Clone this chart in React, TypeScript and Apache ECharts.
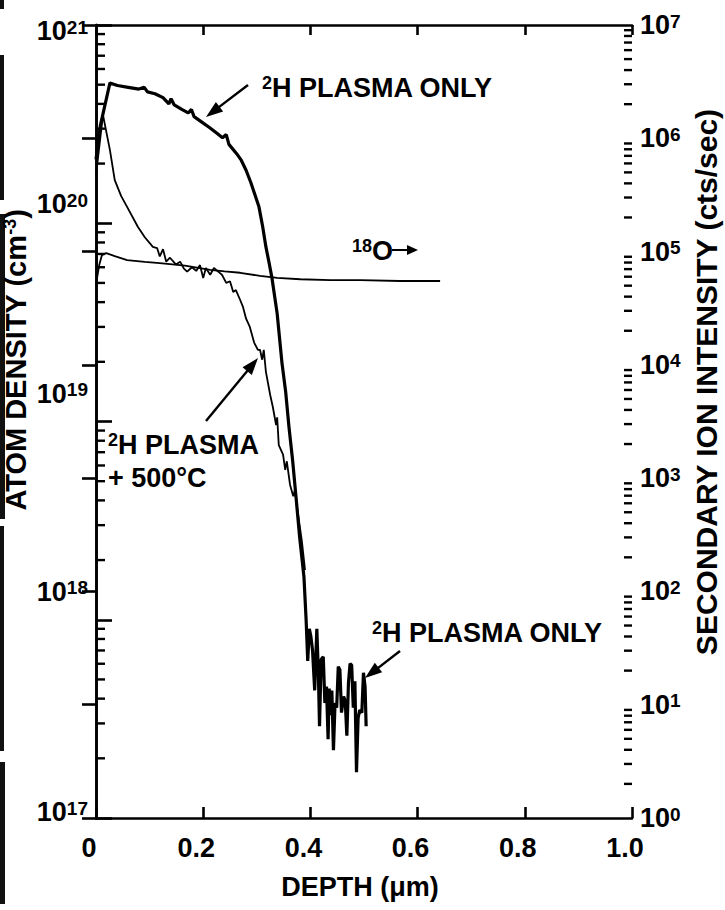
import React, { useEffect, useRef } from "react";
import * as echarts from "echarts";

const FONT = "'Liberation Sans', Arial, Helvetica, sans-serif";

// ²H profile, plasma exposure only (depth µm, atoms/cm³)
const plasmaDepth = [
  0.0, 0.008, 0.026, 0.04, 0.06, 0.08, 0.09, 0.096, 0.11, 0.125, 0.136, 0.14, 0.146, 0.16, 0.172,
  0.178, 0.183, 0.2, 0.211, 0.225, 0.236, 0.243, 0.248, 0.262, 0.271, 0.28, 0.289, 0.297, 0.304,
  0.311, 0.317, 0.323, 0.328, 0.338, 0.347, 0.354, 0.36, 0.367, 0.373, 0.38, 0.388, 0.392,
  0.395, 0.398, 0.401, 0.404, 0.408, 0.412, 0.415, 0.417, 0.42, 0.424, 0.427, 0.43, 0.433, 0.435,
  0.438, 0.44, 0.443, 0.446, 0.449, 0.452, 0.455, 0.458, 0.462, 0.465, 0.468, 0.471, 0.474, 0.477,
  0.48, 0.483, 0.486, 0.489, 0.492, 0.496, 0.499, 0.502, 0.504,
];
const plasmaDensity = [
  2.1e20, 3.1e20, 5.1e20, 4.95e20, 4.85e20, 4.75e20, 4.85e20, 4.6e20, 4.5e20, 4.3e20, 4.0e20, 4.25e20,
  3.95e20, 3.75e20, 3.6e20, 3.75e20, 3.45e20, 3.2e20, 3.05e20, 2.85e20, 2.7e20, 2.8e20, 2.5e20,
  2.25e20, 2.08e20, 1.85e20, 1.6e20, 1.38e20, 1.21e20, 9.6e19, 7.6e19, 6.3e19, 5.35e19, 3.5e19,
  1.97e19, 1.4e19, 9.4e18, 6.3e18, 4.2e18, 2.6e18, 1.64e18, 1.0e18,
  6.2e17, 9.0e17, 8.2e17, 7.0e17, 4.4e17, 9.0e17, 5.2e17, 2.9e17, 6.3e17, 6.5e17, 3.8e17, 4.6e17,
  2.5e17, 4.5e17, 3.3e17, 4.4e17, 2.2e17, 3.8e17, 3.6e17, 5.8e17, 5.6e17, 3.4e17, 4.1e17, 3.9e17,
  2.6e17, 4.8e17, 6.0e17, 5.9e17, 3.6e17, 4.9e17, 1.7e17, 3.2e17, 3.5e17, 3.4e17, 5.4e17, 4.6e17,
  2.9e17,
];

// ²H profile after plasma + 500°C anneal
const annealDepth = [
  0.0, 0.013, 0.026, 0.035, 0.047, 0.058, 0.078, 0.091, 0.101, 0.106, 0.114, 0.119, 0.125, 0.131,
  0.138, 0.149, 0.157, 0.164, 0.17, 0.179, 0.187, 0.194, 0.2, 0.205, 0.213, 0.22, 0.228, 0.235,
  0.243, 0.25, 0.256, 0.261, 0.269, 0.274, 0.28, 0.287, 0.295, 0.302, 0.306, 0.31, 0.313, 0.317,
  0.325, 0.33, 0.336, 0.338, 0.341, 0.349, 0.353, 0.356, 0.362, 0.368, 0.371, 0.377, 0.384, 0.39,
];
const annealDensity = [
  1.75e20, 3.52e20, 2.34e20, 1.65e20, 1.37e20, 1.21e20, 9.6e19, 8.5e19, 7.9e19, 7.6e19, 7.5e19,
  6.8e19, 7.4e19, 6.4e19, 6.7e19, 6.2e19, 6.4e19, 5.9e19, 5.7e19, 6.0e19, 5.75e19, 6.15e19, 5.3e19,
  5.95e19, 5.5e19, 5.95e19, 5.7e19, 5.5e19, 5.0e19, 5.1e19, 4.5e19, 4.6e19, 4.1e19, 3.8e19, 3.3e19,
  3.0e19, 2.5e19, 2.3e19, 2.3e19, 2.05e19, 2.3e19, 1.78e19, 1.36e19, 1.18e19, 9.6e18, 1.05e19,
  7.6e18, 6.8e18, 5.7e18, 6.3e18, 4.8e18, 4.2e18, 4.5e18, 3.4e18, 2.5e18, 1.78e18,
];

// ¹⁸O secondary ion signal (cts/sec, right axis)
const oxygenDepth = [
  0.0, 0.006, 0.011, 0.019, 0.035, 0.058, 0.091, 0.119, 0.166, 0.213, 0.24, 0.269, 0.306, 0.338,
  0.381, 0.437, 0.493, 0.567, 0.642,
];
const oxygenCounts = [
  5.1e4, 7.6e4, 9.3e4, 9.7e4, 9.1e4, 8.4e4, 8.1e4, 7.9e4, 7.5e4, 6.9e4, 6.7e4, 6.5e4, 6.1e4, 5.85e4,
  5.7e4, 5.6e4, 5.6e4, 5.5e4, 5.5e4,
];

const depthTicks = [0, 0.2, 0.4, 0.6, 0.8, 1.0];
const densityDecades = [17, 18, 19, 20, 21];
const countDecades = [0, 1, 2, 3, 4, 5, 6, 7];

// vertical nudge (px, positive = up) of the hand-set density decade labels
const densityLabelLift: Record<number, number> = { 17: 6, 18: 28, 19: 28, 20: 19, 21: -6 };

const zip = (xs: number[], ys: number[]) => xs.map((x, i) => [x, ys[i]]);

// intermediate 2..9 × 10^n marks between successive decades
const minorMarks = (decades: number[]) => {
  const out: number[] = [];
  for (let i = 0; i < decades.length - 1; i++) {
    for (let k = 2; k <= 9; k++) out.push(k * Math.pow(10, decades[i]));
  }
  return out;
};

const baseStyle = { fontFamily: FONT, fontWeight: "bold", color: "#000" };
const bigTok = { ...baseStyle, fontSize: 27, lineHeight: 27 };
const supTok = { ...baseStyle, fontSize: 19, lineHeight: 19, verticalAlign: "top" };

const countLabel = (v: number) => `{b|10}{s|${Math.round(Math.log10(v))}}`;
const countRich = { b: bigTok, s: supTok };

// an empty spacer line above or below shifts the centred label block
const densityLabel = (v: number) => {
  const e = Math.round(Math.log10(v));
  const lift = densityLabelLift[e] || 0;
  const main = `{b|10}{s|${e}}`;
  if (lift > 0) return `${main}\n{g${e}| }`;
  if (lift < 0) return `{g${e}| }\n${main}`;
  return main;
};
const densityRich: Record<string, any> = { b: bigTok, s: supTok };
densityDecades.forEach((e) => {
  const lift = Math.abs(densityLabelLift[e] || 0);
  densityRich[`g${e}`] = { fontSize: 2, lineHeight: 2 * lift, color: "transparent" };
});

function arrow(x1: number, y1: number, x2: number, y2: number, head = 17, half = 6, width = 2.4) {
  const dx = x2 - x1;
  const dy = y2 - y1;
  const len = Math.hypot(dx, dy);
  const ux = dx / len;
  const uy = dy / len;
  const bx = x2 - ux * head;
  const by = y2 - uy * head;
  return [
    { type: "line", shape: { x1, y1, x2: bx + ux * 2, y2: by + uy * 2 }, style: { stroke: "#000", lineWidth: width } },
    {
      type: "polygon",
      shape: { points: [[x2, y2], [bx - uy * half, by + ux * half], [bx + uy * half, by - ux * half]] },
      style: { fill: "#000" },
    },
  ];
}

const annoRich = {
  b: { ...baseStyle, fontSize: 27, lineHeight: 28 },
  s: { ...baseStyle, fontSize: 18, lineHeight: 18, verticalAlign: "top" },
};

const titleRich = {
  b: { ...baseStyle, fontSize: 29, lineHeight: 30 },
  s: { ...baseStyle, fontSize: 18, lineHeight: 18, verticalAlign: "top" },
};

const annoText = (x: number, y: number, text: string) => ({
  type: "text",
  x,
  y,
  style: { text, rich: annoRich, align: "left", verticalAlign: "middle", fill: "#000" },
});

export default function App() {
  const ref = useRef<HTMLDivElement>(null);

  useEffect(() => {
    if (!ref.current) return;
    const chart = echarts.init(ref.current, undefined, { renderer: "svg" });

    const axisLine = { show: true, lineStyle: { color: "#000", width: 2.6 } };
    const majorTick = (length: number) => ({
      show: true,
      inside: true,
      length,
      lineStyle: { color: "#000", width: 2.6 },
    });

    const tickSeries = (values: number[], yAxisIndex: number, xv: number, dir: number, len: number) => ({
      type: "custom",
      coordinateSystem: "cartesian2d",
      xAxisIndex: 0,
      yAxisIndex,
      silent: true,
      clip: false,
      z: 4,
      data: values.map((v) => [xv, v]),
      renderItem: (_p: any, api: any) => {
        const p = api.coord([api.value(0), api.value(1)]);
        return {
          type: "line",
          shape: { x1: p[0], y1: p[1], x2: p[0] + dir * len, y2: p[1] },
          style: { stroke: "#000", lineWidth: 2.4 },
        };
      },
    });

    chart.setOption({
      animation: false,
      backgroundColor: "#fff",
      grid: { left: 96, right: 93, top: 25, bottom: 92, containLabel: false },
      xAxis: [
        {
          type: "value",
          min: depthTicks[0],
          max: depthTicks[depthTicks.length - 1],
          interval: 0.2,
          axisLine,
          axisTick: majorTick(11),
          axisLabel: {
            margin: 16,
            formatter: (v: number) => `{x|${v === 0 ? "0" : v.toFixed(1)}}`,
            rich: { x: { ...baseStyle, fontSize: 27, padding: [0, 14, 0, 0] } },
          },
          splitLine: { show: false },
        },
        {
          type: "value",
          position: "top",
          min: 0,
          max: 1,
          interval: 0.2,
          axisLine,
          axisTick: majorTick(10),
          axisLabel: { show: false },
          splitLine: { show: false },
        },
      ],
      yAxis: [
        {
          type: "log",
          logBase: 10,
          min: Math.pow(10, densityDecades[0]),
          max: Math.pow(10, densityDecades[densityDecades.length - 1]),
          splitNumber: densityDecades.length - 1,
          axisLine,
          axisTick: majorTick(16),
          axisLabel: { margin: 8, formatter: densityLabel, rich: densityRich },
          splitLine: { show: false },
        },
        {
          type: "log",
          logBase: 10,
          position: "right",
          min: Math.pow(10, countDecades[0]),
          max: Math.pow(10, countDecades[countDecades.length - 1]),
          splitNumber: countDecades.length - 1,
          axisLine,
          axisTick: majorTick(14),
          axisLabel: { margin: 8, formatter: countLabel, rich: countRich },
          splitLine: { show: false },
        },
      ],
      series: [
        {
          name: "2H plasma only",
          type: "line",
          yAxisIndex: 0,
          data: zip(plasmaDepth, plasmaDensity),
          showSymbol: false,
          lineStyle: { color: "#000", width: 3.2 },
          z: 6,
        },
        {
          name: "2H plasma + 500°C",
          type: "line",
          yAxisIndex: 0,
          data: zip(annealDepth, annealDensity),
          showSymbol: false,
          lineStyle: { color: "#000", width: 1.8 },
          z: 5,
        },
        {
          name: "18O",
          type: "line",
          yAxisIndex: 1,
          data: zip(oxygenDepth, oxygenCounts),
          showSymbol: false,
          lineStyle: { color: "#000", width: 1.8 },
          z: 5,
        },
        tickSeries(minorMarks(densityDecades), 0, 0, 1, 9),
        tickSeries(minorMarks(countDecades), 1, 1, -1, 8),
      ],
      graphic: [
        // dark binding edge along the left margin
        { type: "rect", shape: { x: 0, y: 0, width: 4, height: 9 }, style: { fill: "#111" } },
        { type: "rect", shape: { x: 0, y: 55, width: 4, height: 145 }, style: { fill: "#111" } },
        { type: "rect", shape: { x: 0, y: 214, width: 5, height: 305 }, style: { fill: "#111" } },
        { type: "rect", shape: { x: 0, y: 526, width: 4, height: 225 }, style: { fill: "#111" } },
        { type: "rect", shape: { x: 0, y: 762, width: 5, height: 142 }, style: { fill: "#111" } },

        annoText(262, 88, "{s|2}{b|H PLASMA ONLY}"),
        ...arrow(248, 85, 206, 117),

        annoText(352, 251, "{s|18}{b|O}"),
        ...arrow(392, 250, 418, 250, 11, 5, 2),

        annoText(108, 445, "{s|2}{b|H PLASMA}"),
        annoText(108, 478, "{b|+ 500°C}"),
        ...arrow(206, 421, 258, 358),

        annoText(372, 633, "{s|2}{b|H PLASMA ONLY}"),
        ...arrow(400, 651, 365, 678),

        {
          type: "text",
          x: 360,
          y: 887,
          style: {
            text: "DEPTH (μm)",
            fontFamily: FONT,
            fontWeight: "bold",
            fontSize: 27,
            fill: "#000",
            align: "center",
            verticalAlign: "middle",
          },
        },
        {
          type: "text",
          x: 16,
          y: 360,
          rotation: Math.PI / 2,
          style: {
            text: "{b|ATOM DENSITY (cm}{s|-3}{b|)}",
            rich: titleRich,
            align: "center",
            verticalAlign: "middle",
            fill: "#000",
          },
        },
        {
          type: "text",
          x: 706,
          y: 382,
          rotation: Math.PI / 2,
          style: {
            text: "SECONDARY ION INTENSITY (cts/sec)",
            fontFamily: FONT,
            fontWeight: "bold",
            fontSize: 30,
            fill: "#000",
            align: "center",
            verticalAlign: "middle",
          },
        },
      ],
    });

    return () => chart.dispose();
  }, []);

  return (
    <div
      ref={ref}
      style={{ position: "absolute", left: 0, top: 0, width: 725, height: 910, background: "#fff" }}
    />
  );
}
